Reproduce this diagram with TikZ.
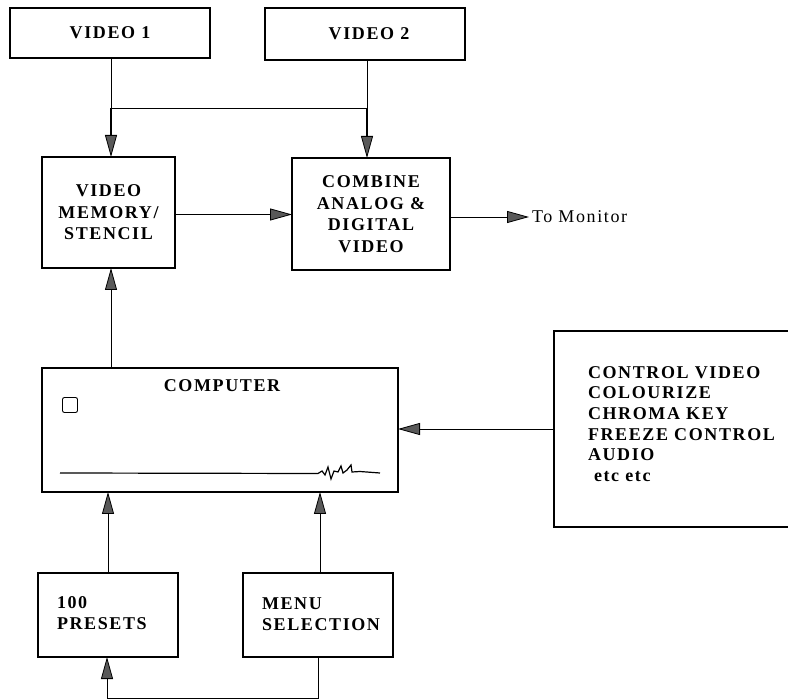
\documentclass[tikz,border=0pt]{standalone}
\usepackage{fontspec}
\setmainfont{Liberation Serif}[LetterSpace=9]
\usetikzlibrary{arrows.meta,calc}
\begin{document}
\begin{tikzpicture}[x=1pt,y=-1pt,
  box/.style={draw, line width=1.6pt, inner sep=0pt, outer sep=0pt, align=center,
    font=\fontsize{18}{21.5}\selectfont\bfseries},
  lbl/.style={inner sep=0pt, outer sep=0pt, font=\fontsize{18}{21.5}\selectfont\bfseries},
  tip/.style={-{Triangle[length=22pt,width=12pt,fill=black!65,line width=0.8pt]}},
  conn/.style={line width=0.9pt, tip},
  thick conn/.style={line width=1.5pt, tip}]
\useasboundingbox (0,0) rectangle (788,700);

% boxes
\node[box, minimum width=200, minimum height=50] (v1) at (110,33) {VIDEO 1};
\node[box, minimum width=200, minimum height=52] (v2) at (365,34) {\hspace*{8pt}VIDEO 2};
\node[box, minimum width=133, minimum height=111] (mem) at (108.5,212.5) {VIDEO\\MEMORY/\\STENCIL};
\node[box, minimum width=158, minimum height=112] (comb) at (371,214) {COMBINE\\ANALOG \&\\DIGITAL\\VIDEO};
\node[box, minimum width=356, minimum height=124] (comp) at (220,430) {};
\node[lbl] (comptext) at (222,386) {COMPUTER};
\node[draw, line width=0.9pt, rounded corners=2pt, minimum width=15, minimum height=15, inner sep=0pt] (sq) at (70,405) {};
\node[box, minimum width=292, minimum height=196] (ctrl) at (700,429) {};
\node[lbl, anchor=west, align=left, font=\fontsize{18}{20.7}\selectfont\bfseries] (ctrltext) at (588,424)
  {CONTROL VIDEO\\COLOURIZE\\CHROMA KEY\\FREEZE CONTROL\\AUDIO\\\hspace*{6pt}etc etc};
\node[box, minimum width=140, minimum height=84] (pre) at (108,615) {};
\node[lbl, anchor=west, align=left] (pretext) at (57,613) {100\\PRESETS};
\node[box, minimum width=150, minimum height=84] (menu) at (318,615) {};
\node[lbl, anchor=west, align=left] (menutext) at (262,614) {MENU\\SELECTION};
\node[lbl, anchor=west, font=\fontsize{18}{21}\selectfont] (mon) at (532,217) {To Monitor};

% computer decoration line
\coordinate (la) at (60,473);
\coordinate (lb) at (380,473);
\draw[line width=1.2pt] (la) -- (318,473.5) -- (322,471) -- (325,475) -- (328,467)
  -- (331,479) -- (334,471) -- (338,472) -- (341,466) -- (343,473) -- (347,470)
  -- (351,465) -- (352,472) -- (360,471.5) -- (lb);

% connectors
\coordinate (j1) at ($(v1.south)+(1,50)$);
\coordinate (j2) at ($(v2.south)+(2,48)$);
\draw[line width=0.9pt] (v1.south) ++(1,0) -- (j1);
\draw[line width=0.9pt] (v2.south) ++(2,0) -- (j2);
\draw[line width=0.9pt] (j1) -- (j2);
\draw[thick conn] (j1) -- (j1 |- mem.north);
\draw[thick conn] (j2) -- (j2 |- comb.north);
\draw[conn] ($(mem.east)+(0,2)$) -- ($(mem.east -| comb.west)+(0,2)$);
\draw[conn] ($(comb.east)+(0,3)$) -- ($(mon.west)+(-3,0)$);
\draw[conn] ($(comp.north)+(-109,0)$) -- ($(mem.south)+(2.5,0)$);
\draw[conn] (ctrl.west) -- (ctrl.west -| comp.east);
\draw[conn] (pre.north) -- (pre.north |- comp.south);
\draw[conn] ($(menu.north)+(2,0)$) -- ($(menu.north |- comp.south)+(2,0)$);
\draw[conn] (menu.south) -- ++(0,41) -| ($(pre.south)+(-1,0)$);
\end{tikzpicture}
\end{document}
